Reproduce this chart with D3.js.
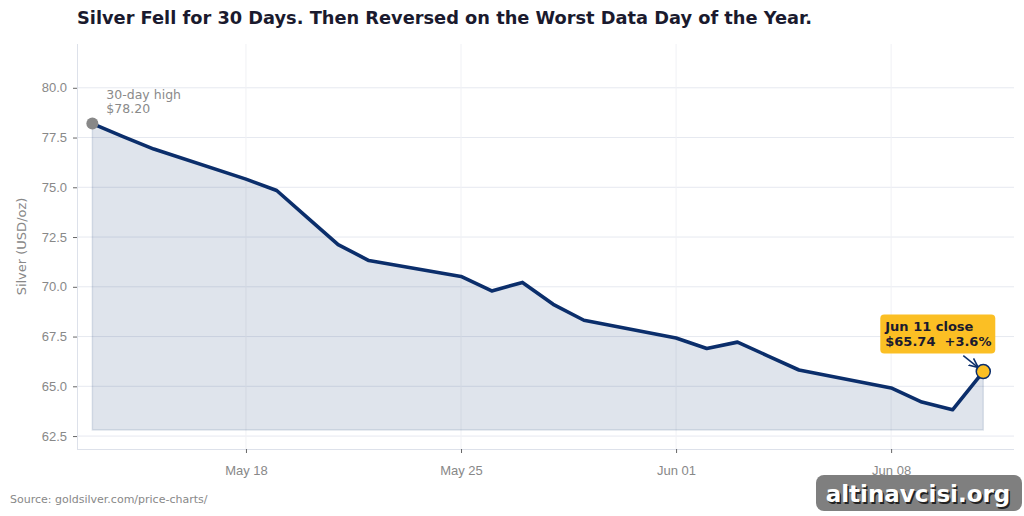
<!DOCTYPE html>
<html>
<head>
<meta charset="utf-8">
<script src="https://cdn.jsdelivr.net/npm/d3@7"></script>
<style>
  body { margin: 0; background: #fff; }
  svg { display: block; font-family: "DejaVu Sans", sans-serif; }
  .tick text { fill: #888; font-size: 13px; }
  .tick line { stroke: #666; }
  .domain { stroke: #dde1ea; }
</style>
</head>
<body>
<div id="chart"></div>
<script>
// silver close, USD/oz
var dates = ["2026-05-13","2026-05-14","2026-05-15","2026-05-18","2026-05-19","2026-05-20",
  "2026-05-21","2026-05-22","2026-05-25","2026-05-26","2026-05-27","2026-05-28","2026-05-29",
  "2026-06-01","2026-06-02","2026-06-03","2026-06-04","2026-06-05","2026-06-08","2026-06-09",
  "2026-06-10","2026-06-11"];
var prices = [78.20, 77.55, 76.92, 75.41, 74.84, 73.48, 72.12, 71.32, 70.52, 69.79, 70.22, 69.12,
  68.32, 67.43, 66.90, 67.22, 66.52, 65.82, 64.92, 64.21, 63.82, 65.74];
var lastChange = "+3.6%";
var yTicks = [62.5, 65.0, 67.5, 70.0, 72.5, 75.0, 77.5, 80.0];
var xTicks = ["2026-05-18","2026-05-25","2026-06-01","2026-06-08"];
var xRange = ["2026-05-12T12:00","2026-06-12T00:00"];
var yRange = [61.85, 82.2];
var fillBase = 62.8;

var parse = d3.isoParse;
var data = dates.map((d, i) => ({date: parse(d), price: prices[i]}));

var svgWidth = 1024, svgHeight = 516;
var margin = {top: 44, right: 10, bottom: 67, left: 77};
var width = svgWidth - margin.left - margin.right;
var height = svgHeight - margin.top - margin.bottom;

var svg = d3.select("#chart").append("svg")
  .attr("width", svgWidth)
  .attr("height", svgHeight);

var chartGroup = svg.append("g")
  .attr("transform", `translate(${margin.left}, ${margin.top})`);

var x = d3.scaleTime().domain(xRange.map(parse)).range([0, width]);
var y = d3.scaleLinear().domain(yRange).range([height, 0]);

// grid
chartGroup.append("g").selectAll("line")
  .data(yTicks).enter().append("line")
  .attr("x1", 0).attr("x2", width)
  .attr("y1", d => y(d)).attr("y2", d => y(d))
  .attr("stroke", "#e6e9f0").attr("stroke-width", 1);
chartGroup.append("g").selectAll("line")
  .data(xTicks.map(parse)).enter().append("line")
  .attr("x1", d => x(d)).attr("x2", d => x(d))
  .attr("y1", 0).attr("y2", height)
  .attr("stroke", "#f0f1f5").attr("stroke-width", 1);

// axes
var bottomAxis = d3.axisBottom(x)
  .tickValues(xTicks.map(parse))
  .tickFormat(d3.timeFormat("%b %d"))
  .tickSize(4).tickPadding(6);
var leftAxis = d3.axisLeft(y)
  .tickValues(yTicks)
  .tickFormat(d3.format(".1f"))
  .tickSize(4).tickPadding(6);

var gx = chartGroup.append("g")
  .attr("transform", `translate(0, ${height})`)
  .call(bottomAxis);
gx.select(".domain").attr("d", `M0,0.5H${width}`);
gx.selectAll(".tick text").attr("dy", "1.25em");

var gy = chartGroup.append("g").call(leftAxis);
gy.select(".domain").attr("d", `M0.5,0V${height}`);

// area + line
var area = d3.area()
  .x(d => x(d.date))
  .y0(y(fillBase))
  .y1(d => y(d.price));
chartGroup.append("path")
  .datum(data)
  .attr("d", area)
  .attr("fill", "#0b2e6b")
  .attr("fill-opacity", 0.13)
  .attr("stroke", "#0b2e6b")
  .attr("stroke-opacity", 0.12)
  .attr("stroke-width", 1.5);

var line = d3.line()
  .x(d => x(d.date))
  .y(d => y(d.price));
chartGroup.append("path")
  .datum(data)
  .attr("d", line)
  .attr("fill", "none")
  .attr("stroke", "#0b2e6b")
  .attr("stroke-width", 3.6)
  .attr("stroke-linejoin", "round");

// start marker
var first = data[0], last = data[data.length - 1];
chartGroup.append("circle")
  .attr("cx", x(first.date)).attr("cy", y(first.price))
  .attr("r", 6).attr("fill", "#888");
var hi = chartGroup.append("text")
  .attr("x", x(first.date) + 14)
  .attr("y", y(first.price) - 25)
  .attr("fill", "#8a8a8a")
  .style("font-size", "12.5px");
hi.append("tspan").text("30-day high");
hi.append("tspan").attr("x", x(first.date) + 14).attr("dy", "1.15em")
  .text("$" + first.price.toFixed(2));

// last close callout
var lx = x(last.date), ly = y(last.price);
chartGroup.append("defs").append("marker")
  .attr("id", "arr").attr("viewBox", "0 0 10 10")
  .attr("refX", 9).attr("refY", 5)
  .attr("markerWidth", 7).attr("markerHeight", 7)
  .attr("orient", "auto")
  .append("path").attr("d", "M0,1 L9,5 L0,9").attr("fill", "none")
  .attr("stroke", "#0b2e6b").attr("stroke-width", 1.5);
chartGroup.append("line")
  .attr("x1", lx - 20).attr("y1", ly - 16)
  .attr("x2", lx - 5).attr("y2", ly - 4)
  .attr("stroke", "#0b2e6b").attr("stroke-width", 1.5)
  .attr("marker-end", "url(#arr)");
chartGroup.append("rect")
  .attr("x", lx - 103).attr("y", ly - 57)
  .attr("width", 115).attr("height", 39)
  .attr("rx", 4)
  .attr("fill", "#fbbf24");
var cl = chartGroup.append("text")
  .attr("x", lx - 98).attr("y", ly - 41)
  .attr("fill", "#1a1a2e")
  .style("font-size", "13px").style("font-weight", "bold");
cl.append("tspan").text("Jun 11 close");
cl.append("tspan").attr("x", lx - 98).attr("dy", "1.22em")
  .attr("xml:space", "preserve")
  .text("$" + last.price.toFixed(2) + "  " + lastChange);
chartGroup.append("circle")
  .attr("cx", lx).attr("cy", ly)
  .attr("r", 7).attr("fill", "#fbbf24")
  .attr("stroke", "#0b2e6b").attr("stroke-width", 1.5);

// labels
svg.append("text")
  .attr("x", 77).attr("y", 24)
  .attr("fill", "#1a1a2e")
  .style("font-size", "17.8px").style("font-weight", "bold")
  .text("Silver Fell for 30 Days. Then Reversed on the Worst Data Day of the Year.");

svg.append("text")
  .attr("transform", `translate(26, ${margin.top + height / 2}) rotate(-90)`)
  .attr("text-anchor", "middle")
  .attr("fill", "#888")
  .style("font-size", "13px")
  .text("Silver (USD/oz)");

svg.append("text")
  .attr("x", 10).attr("y", 503)
  .attr("fill", "#888")
  .style("font-size", "11px")
  .text("Source: goldsilver.com/price-charts/");

// watermark
svg.append("rect")
  .attr("x", 816).attr("y", 475)
  .attr("width", 206).attr("height", 36)
  .attr("rx", 8)
  .attr("fill", "#7f7f7f");
svg.append("text")
  .attr("x", 918).attr("y", 502)
  .attr("text-anchor", "middle")
  .attr("fill", "#222")
  .style("font-size", "23px").style("font-weight", "bold")
  .attr("dx", 1.5).attr("dy", 1.5)
  .text("altinavcisi.org");
svg.append("text")
  .attr("x", 918).attr("y", 502)
  .attr("text-anchor", "middle")
  .attr("fill", "#fff")
  .style("font-size", "23px").style("font-weight", "bold")
  .text("altinavcisi.org");
</script>
</body>
</html>
